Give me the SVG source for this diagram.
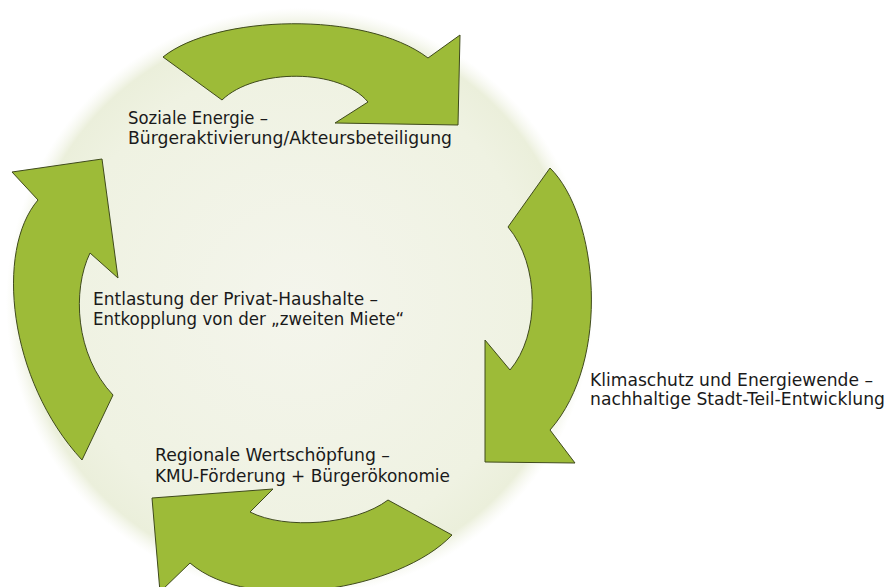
<svg xmlns="http://www.w3.org/2000/svg" width="890" height="587" viewBox="0 0 890 587">
<defs>
<radialGradient id="bg" cx="300" cy="302" r="294" gradientUnits="userSpaceOnUse">
<stop offset="0" stop-color="#f4f5ec"/>
<stop offset="0.8" stop-color="#eff2e2"/>
<stop offset="0.94" stop-color="#ebefdb"/>
<stop offset="1" stop-color="#f3f5ea" stop-opacity="0"/>
</radialGradient>
<style>
.arrow{fill:#9dbb38;stroke:#3f4a1c;stroke-width:1;stroke-linejoin:miter}
.lbl{font-family:"DejaVu Sans","Liberation Sans",sans-serif;font-size:17px;fill:#1a1a1a}
</style>
</defs>
<rect width="890" height="587" fill="#ffffff"/>
<circle id="background" cx="300" cy="302" r="294" fill="url(#bg)"/>
<g id="connectors">
<path id="arrow-top" class="arrow" d="M163,57 C215,15 365,10 428,58 L460,35 L458,125 L335,123 L368,102 C340,68 255,68 222,100 Z"/>
<path id="arrow-right" class="arrow" d="M550,168 C598,215 612,360 550,430 L575,463 L485,462 L485,340 L510,370 C540,335 540,265 508,227 Z"/>
<path id="arrow-bottom" class="arrow" d="M452,535 L388,500 C355,525 285,530 250,512 L273,489 L152,498 L160,592 L190,563 C250,615 400,590 452,535 Z"/>
<path id="arrow-left" class="arrow" d="M82,460 L113,395 C75,355 72,290 90,253 L118,278 L102,159 L12,172 L38,200 C-5,250 8,380 82,460 Z"/>
</g>
<g id="node-soziale">
<text class="lbl" x="128" y="124" textLength="140" lengthAdjust="spacingAndGlyphs">Soziale Energie –</text>
<text class="lbl" x="128" y="144" textLength="324" lengthAdjust="spacingAndGlyphs">Bürgeraktivierung/Akteursbeteiligung</text>
</g>
<g id="node-klima">
<text class="lbl" x="590" y="386" textLength="283" lengthAdjust="spacingAndGlyphs">Klimaschutz und Energiewende –</text>
<text class="lbl" x="590" y="405" textLength="295" lengthAdjust="spacingAndGlyphs">nachhaltige Stadt-Teil-Entwicklung</text>
</g>
<g id="node-regional">
<text class="lbl" x="155" y="461" textLength="235" lengthAdjust="spacingAndGlyphs">Regionale Wertschöpfung –</text>
<text class="lbl" x="155" y="482" textLength="295" lengthAdjust="spacingAndGlyphs">KMU-Förderung + Bürgerökonomie</text>
</g>
<g id="node-entlastung">
<text class="lbl" x="93" y="305" textLength="285" lengthAdjust="spacingAndGlyphs">Entlastung der Privat-Haushalte –</text>
<text class="lbl" x="93" y="325" textLength="311" lengthAdjust="spacingAndGlyphs">Entkopplung von der „zweiten Miete“</text>
</g>
</svg>
